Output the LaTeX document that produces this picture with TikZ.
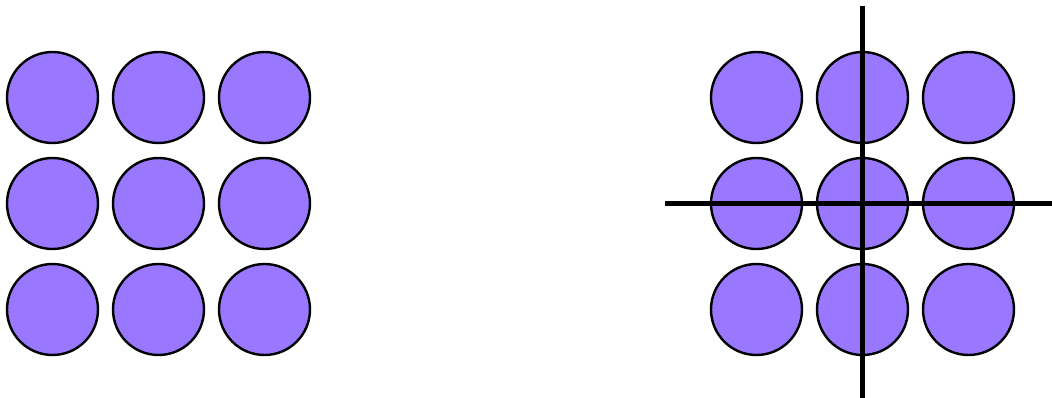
\documentclass[tikz,border=0pt]{standalone}
\begin{document}
\begin{tikzpicture}[x=1pt,y=-1pt,
  disc/.style={circle,draw=black,line width=2.4pt,fill=discfill,minimum size=91pt,inner sep=0pt},
  axis/.style={line width=5pt,draw=black}]
\definecolor{discfill}{RGB}{153,119,255}
\useasboundingbox (0,0) rectangle (1052,398);
% left grid
\foreach \i/\x in {1/52.5,2/158.5,3/264.5}
  \foreach \j/\y in {1/97.5,2/203.5,3/309.5}
    \node[disc] (l\i\j) at (\x,\y) {};
% right grid
\foreach \i/\x in {1/756.5,2/862.5,3/968.5}
  \foreach \j/\y in {1/97.5,2/203.5,3/309.5}
    \node[disc] (r\i\j) at (\x,\y) {};
% cross through the centre disc
\coordinate (top) at (862,6);
\coordinate (bot) at (862,398);
\coordinate (lft) at (665,204);
\coordinate (rgt) at (1052,204);
\draw[axis] (top) -- (bot);
\draw[axis] (lft) -- (rgt);
\end{tikzpicture}
\end{document}
